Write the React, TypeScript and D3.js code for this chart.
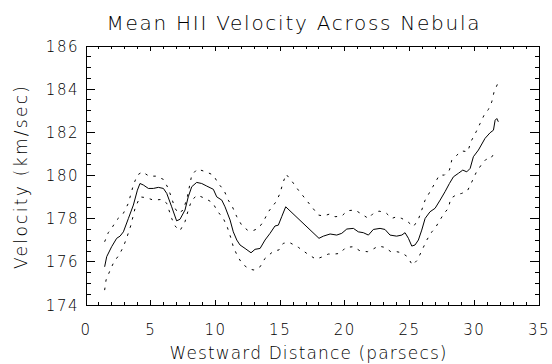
import * as d3 from "d3";

// mean velocity (solid)
const meanDist = [1.44, 1.6, 1.98, 2.37, 2.63, 2.89, 3.27, 3.66, 3.97, 4.17, 4.43, 4.82, 5.2, 5.59, 5.98, 6.24, 6.62, 7.0, 7.26, 7.65, 7.9, 8.17, 8.55, 8.94, 9.33, 9.84, 10.1, 10.49, 10.74, 11.13, 11.38, 11.65, 11.9, 12.29, 12.75, 13.06, 13.45, 13.83, 14.22, 14.6, 14.86, 15.12, 15.43, 18.0, 18.34, 18.86, 19.37, 19.76, 20.15, 20.66, 21.04, 21.43, 21.82, 22.2, 22.72, 23.1, 23.49, 24.0, 24.4, 24.65, 24.91, 25.17, 25.42, 25.68, 25.94, 26.2, 26.58, 26.97, 27.36, 27.74, 28.08, 28.39, 28.77, 29.11, 29.42, 29.68, 29.93, 30.32, 30.83, 31.22, 31.48, 31.61, 31.74, 31.86];
const meanVel = [175.77, 176.24, 176.7, 177.09, 177.19, 177.39, 178.0, 178.63, 179.32, 179.63, 179.56, 179.4, 179.4, 179.45, 179.4, 179.17, 178.55, 177.9, 177.97, 178.4, 179.01, 179.48, 179.68, 179.63, 179.51, 179.36, 179.01, 178.86, 178.55, 177.94, 177.39, 177.01, 176.78, 176.62, 176.42, 176.58, 176.62, 177.01, 177.32, 177.66, 177.7, 178.09, 178.55, 177.09, 177.19, 177.29, 177.24, 177.32, 177.52, 177.55, 177.39, 177.35, 177.24, 177.5, 177.55, 177.5, 177.24, 177.19, 177.24, 177.35, 177.09, 176.73, 176.78, 177.01, 177.47, 178.01, 178.32, 178.48, 178.86, 179.25, 179.63, 179.94, 180.1, 180.25, 180.17, 180.33, 180.87, 181.18, 181.72, 181.98, 182.1, 182.56, 182.64, 182.49];

// upper bound (dotted)
const upperDist = [1.44, 1.72, 1.98, 2.37, 2.89, 3.27, 3.66, 3.97, 4.35, 4.87, 5.41, 5.98, 6.36, 6.62, 6.88, 7.13, 7.52, 7.83, 8.17, 8.6, 9.27, 9.84, 10.22, 10.66, 10.99, 11.31, 11.65, 12.03, 12.47, 12.88, 13.32, 13.7, 14.09, 14.68, 14.99, 15.2, 15.46, 15.94, 16.41, 16.92, 17.44, 17.95, 18.34, 18.8, 19.24, 19.76, 20.19, 20.79, 21.3, 21.82, 22.2, 22.64, 23.18, 23.62, 24.0, 24.4, 24.86, 25.3, 25.68, 25.94, 26.2, 26.58, 26.97, 27.3, 27.69, 28.08, 28.26, 28.65, 29.03, 29.5, 29.73, 30.14, 30.45, 30.76, 31.09, 31.35, 31.53, 31.79];
const upperVel = [176.93, 177.35, 177.55, 177.94, 178.25, 178.71, 179.56, 180.02, 180.17, 179.97, 179.97, 179.82, 179.4, 178.94, 178.48, 178.25, 178.4, 179.01, 180.02, 180.3, 180.17, 180.02, 179.63, 179.32, 178.86, 178.55, 178.09, 177.7, 177.47, 177.44, 177.55, 177.86, 178.32, 178.78, 179.17, 179.63, 180.06, 179.71, 179.32, 178.94, 178.55, 178.17, 178.12, 178.21, 178.09, 178.12, 178.37, 178.4, 178.21, 178.01, 178.25, 178.35, 178.27, 178.01, 178.09, 178.01, 177.86, 177.63, 177.97, 178.4, 178.86, 179.25, 179.66, 180.02, 180.02, 180.25, 180.71, 180.94, 181.14, 181.1, 181.56, 182.02, 182.41, 182.8, 183.06, 183.41, 183.88, 184.23];

// lower bound (dotted)
const lowerDist = [1.44, 1.55, 1.85, 2.16, 2.55, 2.89, 3.19, 3.45, 3.79, 4.17, 4.69, 5.2, 5.85, 6.24, 6.49, 6.62, 6.88, 7.26, 7.65, 7.9, 8.17, 8.6, 9.2, 9.79, 10.15, 10.61, 10.92, 11.18, 11.38, 11.7, 12.08, 12.6, 12.98, 13.45, 13.83, 14.22, 14.53, 14.91, 15.25, 15.71, 16.41, 17.08, 17.77, 18.29, 18.72, 19.17, 19.63, 20.07, 20.66, 21.17, 21.74, 22.15, 22.59, 23.1, 23.55, 24.0, 24.4, 24.83, 25.22, 25.6, 25.94, 26.33, 26.72, 26.97, 27.3, 27.67, 28.0, 28.18, 28.65, 29.03, 29.47, 29.73, 30.14, 30.58, 30.91, 31.22, 31.53, 31.79];
const lowerVel = [174.69, 175.16, 175.59, 176.0, 176.31, 176.7, 177.19, 177.66, 178.48, 179.01, 178.97, 178.86, 178.89, 178.71, 178.25, 178.01, 177.66, 177.44, 177.86, 178.4, 178.86, 179.09, 178.94, 178.74, 178.35, 178.01, 177.6, 177.13, 176.7, 176.27, 175.9, 175.67, 175.62, 175.77, 176.16, 176.36, 176.51, 176.55, 176.86, 176.9, 176.67, 176.38, 176.12, 176.24, 176.36, 176.36, 176.39, 176.67, 176.7, 176.51, 176.47, 176.58, 176.73, 176.67, 176.47, 176.47, 176.42, 176.24, 175.85, 176.08, 176.51, 177.01, 177.39, 177.55, 177.89, 178.25, 178.48, 178.94, 179.12, 179.17, 179.29, 179.6, 180.13, 180.53, 180.75, 180.75, 181.02, 180.94];

const xTicks = [0, 5, 10, 15, 20, 25, 30, 35];
const yTicks = [174, 176, 178, 180, 182, 184, 186];

const W = 552;
const H = 364;
const left = 86, right = 539, top = 46, bottom = 305;
const font = "DejaVu Sans, sans-serif";

export default function App() {
  const x = d3.scaleLinear().domain([0, 35]).range([left, right]);
  const y = d3.scaleLinear().domain([174, 186]).range([bottom, top]);

  const line = d3.line<[number, number]>()
    .x(d => x(d[0]))
    .y(d => y(d[1]));

  const mean = line(meanDist.map((d, i) => [d, meanVel[i]])) || "";
  const upper = line(upperDist.map((d, i) => [d, upperVel[i]])) || "";
  const lower = line(lowerDist.map((d, i) => [d, lowerVel[i]])) || "";

  const xMinor = d3.range(0, 36, 1);
  const yMinor = d3.range(174, 186.01, 0.5);
  const xMaj = 5, xMin = 3; // tick lengths on x axis
  const yMaj = 9, yMin = 4.5; // tick lengths on y axis

  return (
    <svg width={W} height={H} style={{ position: "absolute", left: 0, top: 0, background: "#fff" }}>
      <g stroke="#000" strokeWidth={1} shapeRendering="crispEdges">
        <rect x={left} y={top} width={right - left} height={bottom - top} fill="none" />
        {xMinor.map(t => {
          const len = t % 5 === 0 ? xMaj : xMin;
          return (
            <g key={"x" + t}>
              <line x1={x(t)} x2={x(t)} y1={bottom} y2={bottom - len} />
              <line x1={x(t)} x2={x(t)} y1={top} y2={top + len} />
            </g>
          );
        })}
        {yMinor.map(t => {
          const len = Math.abs(t % 2) < 1e-6 ? yMaj : yMin;
          return (
            <g key={"y" + t}>
              <line x1={left} x2={left + len} y1={y(t)} y2={y(t)} />
              <line x1={right} x2={right - len} y1={y(t)} y2={y(t)} />
            </g>
          );
        })}
      </g>
      <path d={upper} fill="none" stroke="#000" strokeWidth={1} strokeDasharray="2.5 6" />
      <path d={lower} fill="none" stroke="#000" strokeWidth={1} strokeDasharray="2.5 6" />
      <path d={mean} fill="none" stroke="#000" strokeWidth={1} />
      <g fontFamily={font} fontWeight={200} fontSize={15} fill="#000">
        {xTicks.map(t => (
          <text key={t} x={x(t)} y={335} textAnchor="middle" letterSpacing={1.5}>{t}</text>
        ))}
        {yTicks.map(t => (
          <text key={t} x={79} y={y(t) + 5.5} textAnchor="end" letterSpacing={1.5}>{t}</text>
        ))}
      </g>
      <text x={293} y={30} fontFamily={font} fontWeight={200} fontSize={20} textAnchor="middle" textLength={373} lengthAdjust="spacing" fill="#000">
        Mean HII Velocity Across Nebula
      </text>
      <text x={308} y={359} fontFamily={font} fontWeight={200} fontSize={17} textAnchor="middle" textLength={277} lengthAdjust="spacing" fill="#000">
        Westward Distance (parsecs)
      </text>
      <text transform={`translate(27,${(top + bottom) / 2 + 2}) rotate(-90)`} fontFamily={font} fontWeight={200} fontSize={17} textAnchor="middle" textLength={183} lengthAdjust="spacing" fill="#000">
        Velocity (km/sec)
      </text>
    </svg>
  );
}
